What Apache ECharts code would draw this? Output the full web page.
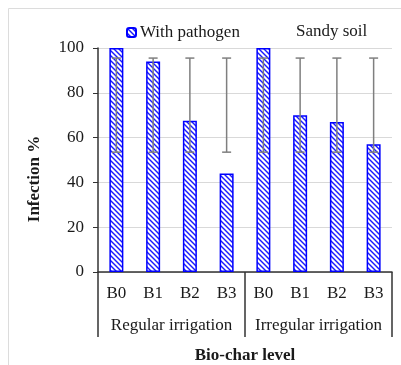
<!DOCTYPE html>
<html><head><meta charset="utf-8">
<script src="https://cdn.jsdelivr.net/npm/echarts@6/dist/echarts.min.js"></script>
<style>html,body{margin:0;padding:0;background:#fff}#c{width:401px;height:365px}</style>
</head><body><div id="c"></div>
<script>
var categories = ['B0','B1','B2','B3','B0','B1','B2','B3'];
var groups = ['Regular irrigation','Irregular irrigation'];
var infection = [100, 94, 67.5, 44, 100, 70, 67, 57];
var errLow = [53.5, 53.5, 53.5, 53.5, 53.5, 53.5, 53.5, 53.5];
var errHigh = [95.5, 95.5, 95.5, 95.5, 95.5, 95.5, 95.5, 95.5];
var yTicks = [0, 20, 40, 60, 80, 100];

var FONT = '"Liberation Serif", "Times New Roman", serif';
var FS = 17;

function hatch() {
  var s = 5;
  var cv = document.createElement('canvas');
  cv.width = s; cv.height = s;
  var ctx = cv.getContext('2d');
  ctx.fillStyle = '#ffffff';
  ctx.fillRect(0, 0, s, s);
  ctx.strokeStyle = '#1a1aff';
  ctx.lineWidth = 1.4;
  for (var k = -1; k <= 1; k++) {
    ctx.beginPath();
    ctx.moveTo(-1, -1 + s * k);
    ctx.lineTo(s + 1, s + 1 + s * k);
    ctx.stroke();
  }
  return cv;
}
var pattern = { image: hatch(), repeat: 'repeat' };

var chart = echarts.init(document.getElementById('c'), null, { renderer: 'canvas' });
var errData = categories.map(function (c, i) { return [i, errLow[i], errHigh[i]]; });

chart.setOption({
  animation: false,
  backgroundColor: '#fff',
  textStyle: { fontFamily: FONT },
  grid: { left: 98, right: 9, top: 48, bottom: 93, containLabel: false, outerBoundsMode: 'none' },
  title: {
    text: 'Sandy soil', left: 291, top: 18,
    textStyle: { fontFamily: FONT, fontSize: FS, fontWeight: 'normal', color: '#1a1a1a' }
  },
  legend: {
    data: ['With pathogen'], left: 121, top: 19,
    itemWidth: 9, itemHeight: 9, itemGap: 4,
    textStyle: { fontFamily: FONT, fontSize: FS, color: '#1a1a1a', padding: [0, 0, 0, -1] }
  },
  xAxis: [{
    type: 'category', data: categories, position: 'bottom',
    axisLine: { show: true, lineStyle: { color: '#333', width: 1.5 } },
    axisTick: { show: false },
    axisLabel: { fontFamily: FONT, fontSize: FS, color: '#1a1a1a', margin: 13, interval: 0 },
    name: 'Bio-char level', nameLocation: 'middle', nameGap: 75,
    nameTextStyle: { fontFamily: FONT, fontSize: FS, fontWeight: 'bold', color: '#1a1a1a' }
  }, {
    type: 'category', data: groups, position: 'bottom',
    axisLine: { show: false },
    axisTick: { show: true, length: 65, lineStyle: { color: '#333', width: 1.5 } },
    axisLabel: { fontFamily: FONT, fontSize: FS, color: '#1a1a1a', margin: 45, interval: 0, hideOverlap: false }
  }],
  yAxis: {
    type: 'value', min: 0, max: 100, interval: 20,
    axisLine: { show: true, lineStyle: { color: '#333', width: 1.5 } },
    axisTick: { show: true, length: 5, lineStyle: { color: '#333' } },
    axisLabel: { fontFamily: FONT, fontSize: FS, color: '#1a1a1a', margin: 14,
      formatter: function (v) { return yTicks.indexOf(v) >= 0 ? String(v) : ''; } },
    splitLine: { show: true, lineStyle: { color: '#d9d9d9', width: 1 } }
  },
  graphic: [
    { type: 'line', shape: { x1: 8.5, y1: 8.5, x2: 8.5, y2: 365 }, style: { stroke: '#dcdcdc', lineWidth: 1 }, silent: true },
    { type: 'line', shape: { x1: 8.5, y1: 8.5, x2: 401, y2: 8.5 }, style: { stroke: '#dcdcdc', lineWidth: 1 }, silent: true },
    { type: 'text', x: 35, y: 179, rotation: Math.PI / 2, silent: true,
      style: { text: 'Infection %', fontFamily: FONT, fontSize: FS, fontWeight: 'bold', fill: '#1a1a1a',
        textAlign: 'center', textVerticalAlign: 'middle' } }
  ],
  series: [{
    name: 'With pathogen', type: 'bar', xAxisIndex: 0, data: infection,
    barWidth: 14,
    itemStyle: { color: pattern, borderColor: '#0000ff', borderWidth: 1.5 }
  }, {
    name: 'err', type: 'custom', xAxisIndex: 0, data: errData, z: 5,
    renderItem: function (params, api) {
      var x = api.value(0);
      var lo = api.coord([x, api.value(1)]);
      var hi = api.coord([x, api.value(2)]);
      var w = 4.5;
      var st = { stroke: '#7f7f7f', lineWidth: 1.5 };
      return { type: 'group', children: [
        { type: 'line', shape: { x1: lo[0], y1: lo[1], x2: hi[0], y2: hi[1] }, style: st },
        { type: 'line', shape: { x1: lo[0] - w, y1: lo[1], x2: lo[0] + w, y2: lo[1] }, style: st },
        { type: 'line', shape: { x1: hi[0] - w, y1: hi[1], x2: hi[0] + w, y2: hi[1] }, style: st }
      ] };
    }
  }]
});
</script></body></html>
